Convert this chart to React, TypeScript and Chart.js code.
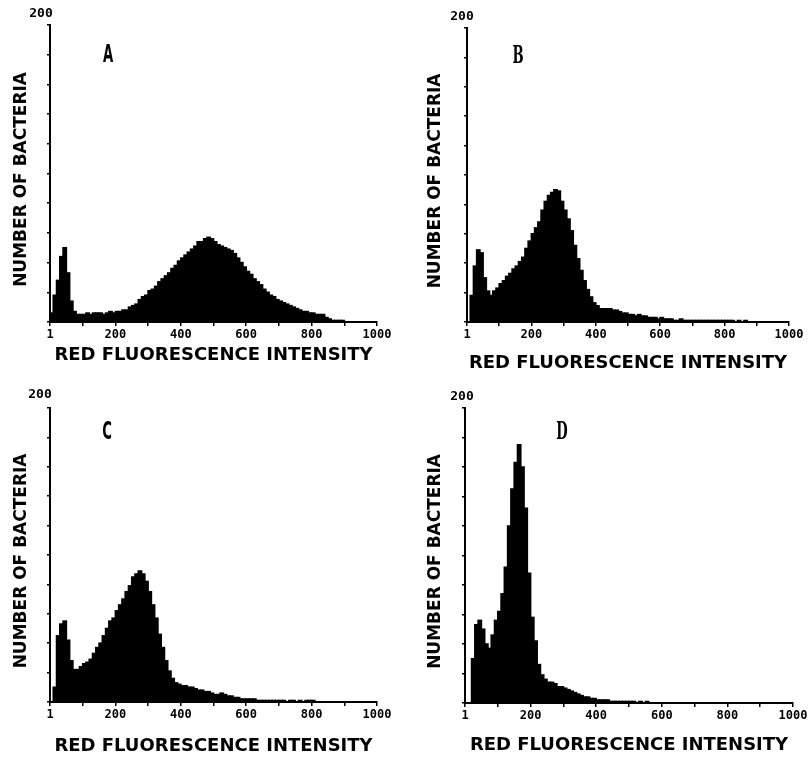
import React, { useEffect, useRef } from 'react';
import { Chart, registerables } from 'chart.js';

Chart.register(...registerables);

// Histogram bins of 10 channels each (channel 0..1000)
const BIN_WIDTH = 10;

const countsA = [
  6, 18, 28, 44, 50, 33, 14, 7, 5, 5,
  5, 6, 5, 6, 6, 6, 5, 6, 7, 6,
  7, 7, 8, 8, 10, 11, 12, 15, 17, 18,
  21, 22, 24, 27, 29, 31, 33, 36, 38, 41,
  43, 45, 47, 49, 51, 54, 54, 56, 57, 56,
  54, 52, 51, 50, 49, 48, 46, 43, 40, 37,
  34, 32, 29, 27, 25, 22, 20, 18, 17, 15,
  14, 13, 12, 11, 10, 9, 8, 7, 7, 6,
  6, 5, 5, 5, 3, 2, 1, 1, 1, 1,
  0, 0, 0, 0, 0, 0, 0, 0, 0, 0,
];

const countsB = [
  0, 18, 38, 49, 47, 30, 21, 18, 21, 23,
  26, 28, 31, 33, 36, 38, 41, 44, 50, 55,
  60, 64, 68, 76, 82, 86, 88, 90, 89, 82,
  76, 70, 62, 52, 43, 35, 28, 22, 17, 13,
  11, 9, 9, 9, 9, 8, 8, 7, 6, 6,
  5, 5, 4, 5, 4, 4, 3, 3, 3, 2,
  3, 2, 2, 2, 1, 1, 2, 1, 1, 1,
  1, 1, 1, 1, 1, 1, 1, 1, 1, 1,
  1, 1, 1, 0, 1, 0, 1, 0, 0, 0,
  0, 0, 0, 0, 0, 0, 0, 0, 0, 0,
];

const countsC = [
  0, 10, 45, 53, 55, 42, 28, 22, 22, 24,
  26, 27, 29, 33, 37, 40, 45, 50, 55, 57,
  62, 66, 70, 75, 79, 85, 87, 89, 87, 82,
  75, 66, 57, 46, 37, 28, 21, 16, 13, 12,
  11, 11, 10, 10, 9, 8, 8, 7, 7, 6,
  5, 5, 6, 5, 4, 4, 3, 3, 2, 2,
  2, 2, 2, 1, 1, 1, 1, 1, 1, 1,
  1, 1, 0, 1, 1, 0, 1, 0, 1, 1,
  1, 0, 0, 0, 0, 0, 0, 0, 0, 0,
  0, 0, 0, 0, 0, 0, 0, 0, 0, 0,
];

const countsD = [
  0, 0, 30, 53, 56, 50, 40, 37, 46, 56,
  62, 74, 92, 120, 145, 163, 175, 160, 132, 88,
  58, 42, 26, 19, 16, 14, 14, 13, 11, 11,
  10, 9, 8, 7, 6, 5, 4, 4, 3, 3,
  2, 2, 2, 2, 1, 1, 1, 1, 1, 1,
  1, 1, 0, 1, 0, 1, 0, 0, 0, 0,
  0, 0, 0, 0, 0, 0, 0, 0, 0, 0,
  0, 0, 0, 0, 0, 0, 0, 0, 0, 0,
  0, 0, 0, 0, 0, 0, 0, 0, 0, 0,
  0, 0, 0, 0, 0, 0, 0, 0, 0, 0,
];

const xTickLabels: Record<number, string> = { 0: '1', 200: '200', 400: '400', 600: '600', 800: '800', 1000: '1000' };
const yTopLabel = '200';
const xTitle = 'RED FLUORESCENCE INTENSITY';
const yTitle = 'NUMBER OF BACTERIA  ';

type PanelCfg = {
  letter: string;
  values: number[];
  cx: number; cy: number; w: number; h: number;
  L: number; T: number; R: number; B: number;
  ytX: number; xtY: number;
  lab200: [number, number];
  letterPos: [number, number];
  serif: boolean;
};

const panels: PanelCfg[] = [
  { letter: 'A', values: countsA, cx: 0, cy: 0, w: 400, h: 380, L: 50, T: 25, R: 377, B: 322, ytX: 22, xtY: 355, lab200: [41, 13.5], letterPos: [108, 56], serif: false },
  { letter: 'B', values: countsB, cx: 400, cy: 0, w: 412, h: 380, L: 467, T: 28, R: 789, B: 322, ytX: 436, xtY: 363, lab200: [462, 16.5], letterPos: [518, 57], serif: true },
  { letter: 'C', values: countsC, cx: 0, cy: 380, w: 400, h: 377, L: 50, T: 408, R: 377, B: 702, ytX: 22, xtY: 746, lab200: [40, 395], letterPos: [107, 433], serif: false },
  { letter: 'D', values: countsD, cx: 400, cy: 380, w: 412, h: 377, L: 465, T: 408, R: 793, B: 703, ytX: 436, xtY: 745, lab200: [462, 397], letterPos: [562, 433], serif: true },
];

function Panel({ cfg }: { cfg: PanelCfg }) {
  const ref = useRef<HTMLCanvasElement | null>(null);
  useEffect(() => {
    const canvas = ref.current;
    if (!canvas) return;
    const data = cfg.values.map((v, i) => ({ x: i * BIN_WIDTH + BIN_WIDTH / 2, y: v }));
    const textPlugin = {
      id: 'panelText',
      afterDraw(chart: any) {
        const ctx = chart.ctx as CanvasRenderingContext2D;
        ctx.save();
        ctx.fillStyle = '#000';
        ctx.font = 'bold 13px "DejaVu Sans Mono", monospace';
        ctx.textAlign = 'center';
        ctx.textBaseline = 'middle';
        ctx.fillText(yTopLabel, cfg.lab200[0] - cfg.cx, cfg.lab200[1] - cfg.cy);
        ctx.translate(cfg.letterPos[0] - cfg.cx, cfg.letterPos[1] - cfg.cy);
        ctx.scale(0.55, 1);
        ctx.font = cfg.serif ? 'bold 24px "DejaVu Serif", serif' : 'bold 24px "DejaVu Sans", sans-serif';
        ctx.fillText(cfg.letter, 0, 0);
        ctx.restore();
      },
    };
    const axisGrid = { display: true, drawOnChartArea: false, drawTicks: true, color: '#000', lineWidth: 1.5, offset: false };
    const border = { display: true, color: '#000', width: 2 };
    const chart = new Chart(canvas, {
      type: 'bar',
      data: {
        datasets: [{
          data: data as any,
          backgroundColor: '#000',
          borderColor: '#000',
          borderWidth: 0,
          inflateAmount: 0.8,
          barPercentage: 1,
          categoryPercentage: 1,
        }],
      },
      options: {
        animation: false,
        responsive: false,
        devicePixelRatio: 1,
        layout: { padding: { left: 0, top: cfg.T - cfg.cy, right: cfg.cx + cfg.w - cfg.R, bottom: 0 } },
        plugins: { legend: { display: false }, tooltip: { enabled: false } },
        scales: {
          x: {
            type: 'linear',
            min: 0,
            max: 1000,
            offset: false,
            afterFit: (s: any) => { s.height = cfg.cy + cfg.h - cfg.B; },
            ticks: {
              stepSize: 100,
              autoSkip: false,
              maxRotation: 0,
              padding: 2,
              color: '#000',
              font: { family: '"DejaVu Sans Mono", monospace', weight: 'bold', size: 12 },
              callback: (v: any) => xTickLabels[Number(v)] ?? '',
            },
            grid: { ...axisGrid, tickLength: 4 },
            border,
            title: {
              display: true,
              text: xTitle,
              color: '#000',
              font: { family: '"DejaVu Sans", sans-serif', weight: 'bold', size: 18 },
              padding: { top: 0, bottom: Math.max(0, cfg.cy + cfg.h - cfg.xtY - 10.8) },
            },
          },
          y: {
            type: 'linear',
            min: 0,
            max: 200,
            afterFit: (s: any) => { s.width = cfg.L - cfg.cx; },
            ticks: { stepSize: 20, padding: 0, callback: () => '' },
            grid: { ...axisGrid, tickLength: 3 },
            border,
            title: {
              display: true,
              text: yTitle,
              color: '#000',
              font: { family: '"DejaVu Sans", sans-serif', weight: 'bold', size: 17 },
              padding: { top: cfg.ytX - cfg.cx - 10.2, bottom: 0 },
            },
          },
        },
      } as any,
      plugins: [textPlugin],
    });
    return () => chart.destroy();
  }, [cfg]);
  return (
    <canvas
      ref={ref}
      width={cfg.w}
      height={cfg.h}
      style={{ position: 'absolute', left: cfg.cx, top: cfg.cy, width: cfg.w, height: cfg.h, display: 'block' }}
    />
  );
}

export default function App() {
  return (
    <div style={{ position: 'absolute', left: 0, top: 0, width: 812, height: 757, background: '#fff', overflow: 'hidden' }}>
      {panels.map((p) => <Panel key={p.letter} cfg={p} />)}
    </div>
  );
}
